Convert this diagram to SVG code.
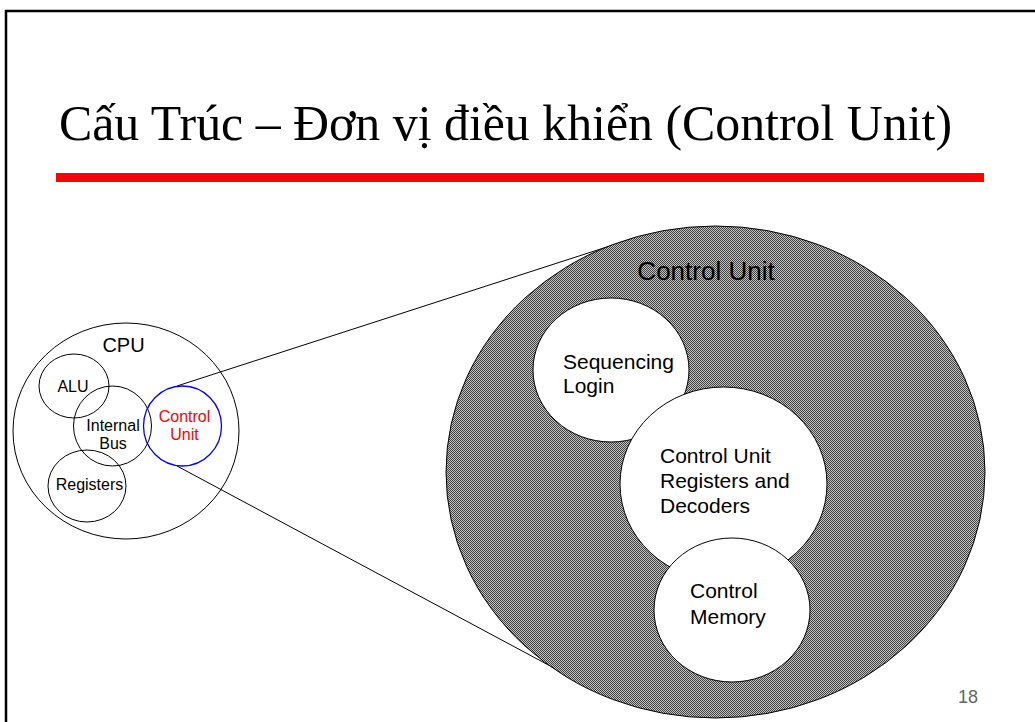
<svg xmlns="http://www.w3.org/2000/svg" width="1035" height="722" viewBox="0 0 1035 722">
  <defs>
    <pattern id="dots" patternUnits="userSpaceOnUse" width="2" height="2">
      <rect width="2" height="2" fill="#c4c4c4"/>
      <rect width="1" height="1" fill="#404040"/>
      <rect x="1" y="1" width="1" height="1" fill="#404040"/>
    </pattern>
  </defs>
  <style>
    .sans { font-family: "Liberation Sans", Arial, sans-serif; }
    .small { font-size: 16px; fill: #000; text-anchor: middle; }
    .mid { font-size: 21px; fill: #000; }
    .ring { fill: none; stroke: #000; stroke-width: 1; }
    .wring { fill: #fff; stroke: #000; stroke-width: 1; }
    .conn { stroke: #000; stroke-width: 1; fill: none; }
  </style>
  <rect width="1035" height="722" fill="#fff"/>
  <path d="M6,722 V11 H1035" fill="none" stroke="#000" stroke-width="2.5"/>
  <text x="59" y="140" font-family="'Liberation Serif', 'Times New Roman', serif" font-size="50" fill="#000" textLength="893" lengthAdjust="spacingAndGlyphs">Cấu Trúc – Đơn vị điều khiển (Control Unit)</text>
  <rect x="56" y="173" width="928" height="9" fill="#ff0000"/>

  <g id="connectors">
    <line class="conn" x1="177" y1="386" x2="613" y2="245"/>
    <line class="conn" x1="177" y1="466" x2="595" y2="690"/>
  </g>

  <g id="cpu">
    <ellipse class="ring" cx="126" cy="431" rx="113" ry="108"/>
    <text class="sans" x="123.5" y="352" font-size="20" text-anchor="middle">CPU</text>
  </g>
  <g id="alu">
    <ellipse class="ring" cx="74" cy="386" rx="35" ry="32"/>
    <text class="sans small" x="73" y="392">ALU</text>
  </g>
  <g id="internal-bus">
    <ellipse class="ring" cx="112.5" cy="426" rx="39" ry="40"/>
    <text class="sans small" x="113" y="431">Internal</text>
    <text class="sans small" x="113" y="449">Bus</text>
  </g>
  <g id="registers">
    <ellipse class="ring" cx="87" cy="486" rx="39" ry="36"/>
    <text class="sans small" x="89.5" y="490">Registers</text>
  </g>
  <g id="cpu-control-unit">
    <ellipse cx="182.5" cy="426" rx="39" ry="40" fill="none" stroke="#0000ff" stroke-width="1.3"/>
    <text class="sans small" x="184.5" y="422" style="fill:#ff0000">Control</text>
    <text class="sans small" x="184.5" y="440" style="fill:#ff0000">Unit</text>
  </g>

  <g id="control-unit">
    <ellipse cx="715.5" cy="472" rx="269.5" ry="246" fill="url(#dots)" stroke="#000" stroke-width="1"/>
    <text class="sans" x="706" y="280" font-size="26" text-anchor="middle">Control Unit</text>
  </g>
  <g id="sequencing-login">
    <ellipse class="wring" cx="611" cy="370" rx="78" ry="72"/>
    <text class="sans mid" x="563" y="369">Sequencing</text>
    <text class="sans mid" x="563" y="393">Login</text>
  </g>
  <g id="cu-registers">
    <ellipse class="wring" cx="723.5" cy="484" rx="103.5" ry="97"/>
    <text class="sans mid" x="660" y="463">Control Unit</text>
    <text class="sans mid" x="660" y="488">Registers and</text>
    <text class="sans mid" x="660" y="513">Decoders</text>
  </g>
  <g id="control-memory">
    <ellipse class="wring" cx="732" cy="610" rx="78" ry="72"/>
    <text class="sans mid" x="690" y="598">Control</text>
    <text class="sans mid" x="690" y="624">Memory</text>
  </g>

  <text class="sans" x="958" y="703" font-size="18" fill="#666">18</text>
</svg>
